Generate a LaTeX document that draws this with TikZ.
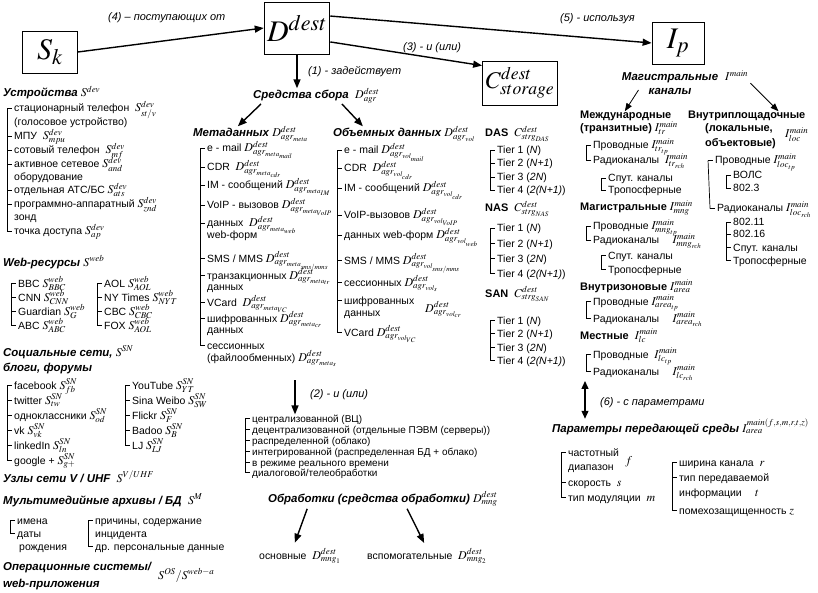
\documentclass[tikz,border=0pt]{standalone}
\usepackage{mathptmx}
\usepackage[no-math]{fontspec}
\setmainfont{Liberation Sans}
\usetikzlibrary{arrows.meta}

\newcommand{\mth}[1]{{\fontsize{12}{12}\selectfont$#1$}}
\newcommand{\Sd}[1]{\mth{S^{dev}_{#1}}}
\newcommand{\Sw}[1]{\mth{S^{web}_{#1}}}
\newcommand{\Ss}[1]{\mth{S^{SN}_{#1}}}
\newcommand{\Dm}[1]{\mth{D^{dest}_{agr_{meta_{#1}}}}}
\newcommand{\Dv}[1]{\mth{D^{dest}_{agr_{vol_{#1}}}}}
\newcommand{\Imn}[1]{\mth{I^{main}_{#1}}}
\newcommand{\Cst}[1]{\mth{C^{dest}_{strg_{#1}}}}
% bracket: ticks for the list, line from first to last
\newcommand{\brk}[3]{%
  \foreach \n in {#1}
    \draw[br] ([xshift=-7pt,yshift=3.5pt]\n.base west) -- ([xshift=-2pt,yshift=3.5pt]\n.base west);
  \draw[br] ([xshift=-7pt,yshift=3.5pt]#2.base west) -- ([xshift=-7pt,yshift=3.5pt]#3.base west);}

\begin{document}
\begin{tikzpicture}[x=1bp, y=-1bp,
    txt/.style={anchor=base west, inner sep=0pt, font=\fontsize{10.5}{12}\selectfont},
    sml/.style={txt, font=\fontsize{10}{12}\selectfont},
    hdr/.style={txt, font=\fontsize{11.5}{12}\selectfont\bfseries\itshape},
    bhdr/.style={txt, font=\fontsize{11}{12}\selectfont\bfseries},
    lbl/.style={anchor=base west, inner sep=0pt, font=\fontsize{11}{12}\selectfont\itshape},
    bx/.style={draw, line width=0.8pt, inner sep=3pt, font=\fontsize{30}{30}\selectfont},
    arr/.style={-{Triangle[length=9pt,width=7pt]}, line width=1.4pt},
    tarr/.style={-{Triangle[length=8pt,width=6pt]}, line width=0.8pt},
    br/.style={line width=0.7pt}]
  \useasboundingbox (0,0) rectangle (818,593);

  % top row
  \node[bx, minimum width=55bp, minimum height=42bp] (S) at (50,52) {$S_k$};
  \node[bx, minimum width=63bp, minimum height=52bp] (D) at (297,28) {$D^{dest}$};
  \node[bx, minimum width=52bp, minimum height=42bp] (Ip) at (678,43) {$I_p$};
  \node[bx, minimum width=75bp, minimum height=44bp, font=\fontsize{24}{24}\selectfont] (C) at (520,83) {$C^{dest}_{storage}$};

  \draw[arr] (S.east) -- (D.west);
  \draw[arr] ([yshift=12pt]D.east) -- (Ip.west);
  \draw[arr] ([yshift=-14pt]D.east) -- ([yshift=-5pt]C.north west);

  \node[lbl] (l4) at (108,21) {(4) – поступающих от};
  \node[lbl] (l5) at (560,22) {(5) - используя};
  \node[lbl] (l3) at (403,51) {(3) - и (или)};
  \node[lbl] (l1) at (308,75) {(1) - задействует};

  % devices
  \node[hdr] (dev) at (3,97) {Устройства \mth{S^{dev}}};
  \node[txt] (d1) at (14,112) {стационарный телефон \ \Sd{st/v}};
  \node[txt] (d1b) at (14,126) {(голосовое устройство)};
  \node[txt] (d2) at (14,140) {МПУ \ \Sd{mpu}};
  \node[txt] (d3) at (14,154) {сотовый телефон \ \Sd{mf}};
  \node[txt] (d4) at (14,168) {активное сетевое \Sd{and}};
  \node[txt] (d4b) at (14,181) {оборудование};
  \node[txt] (d5) at (14,194) {отдельная АТС/БС \Sd{ats}};
  \node[txt] (d6) at (14,208) {программно-аппаратный \Sd{znd}};
  \node[txt] (d6b) at (14,221) {зонд};
  \node[txt] (d7) at (14,235) {точка доступа \Sd{ap}};
  \brk{d1,d2,d3,d4,d5,d6,d7}{d1}{d7}

  % web
  \node[hdr] (web) at (3,266) {Web-ресурсы \mth{S^{web}}};
  \node[txt] (w1) at (18,287) {BBC \Sw{BBC}};
  \node[txt] (w2) at (18,301) {CNN \Sw{CNN}};
  \node[txt] (w3) at (18,315) {Guardian \Sw{G}};
  \node[txt] (w4) at (18,329) {ABC \Sw{ABC}};
  \brk{w1,w2,w3,w4}{w1}{w4}
  \node[txt] (w5) at (104,287) {AOL \Sw{AOL}};
  \node[txt] (w6) at (104,301) {NY Times \Sw{NYT}};
  \node[txt] (w7) at (104,315) {CBC \Sw{CBC}};
  \node[txt] (w8) at (104,329) {FOX \Sw{AOL}};
  \brk{w5,w6,w7,w8}{w5}{w8}

  % social
  \node[hdr] (sn) at (3,356) {Социальные сети, \mth{S^{SN}}};
  \node[hdr] (sn2) at (3,371) {блоги, форумы};
  \node[txt] (s1) at (14,389) {facebook \Ss{fb}};
  \node[txt] (s2) at (14,404) {twitter \Ss{tw}};
  \node[txt] (s3) at (14,419) {одноклассники \Ss{od}};
  \node[txt] (s4) at (14,434) {vk \Ss{vk}};
  \node[txt] (s5) at (14,449) {linkedIn \Ss{ln}};
  \node[txt] (s6) at (14,464) {google + \Ss{g+}};
  \brk{s1,s2,s3,s4,s5,s6}{s1}{s6}
  \node[txt] (s7) at (132,389) {YouTube \Ss{YT}};
  \node[txt] (s8) at (132,404) {Sina Weibo \Ss{SW}};
  \node[txt] (s9) at (132,419) {Flickr \Ss{F}};
  \node[txt] (s10) at (132,434) {Badoo \Ss{B}};
  \node[txt] (s11) at (132,449) {LJ \Ss{LJ}};
  \brk{s7,s8,s9,s10,s11}{s7}{s11}

  \node[hdr] (vu) at (3,482) {Узлы сети V / UHF \ \mth{S^{V/UHF}}};
  \node[hdr] (mm) at (3,504) {Мультимедийные архивы / БД \ \mth{S^{M}}};
  \node[txt] (m1) at (17,524) {имена};
  \node[txt] (m2) at (17,537) {даты};
  \node[txt] (m2b) at (19,550) {рождения};
  \brk{m1,m2}{m1}{m2}
  \node[txt] (m3) at (95,524) {причины, содержание};
  \node[txt] (m3b) at (95,537) {инцидента};
  \node[txt] (m4) at (95,550) {др. персональные данные};
  \brk{m3,m4}{m3}{m4}
  \node[hdr] (os) at (3,570) {Операционные системы/};
  \node[hdr] (os2) at (3,587) {web-приложения};
  \node[txt] (osm) at (158,579) {\mth{S^{OS} / S^{web-a}}};

  % collection means
  \node[hdr] (agr) at (253,99) {Средства сбора \ \mth{D^{dest}_{agr}}};
  \draw[arr] (D.south) -- (D.south |- agr.north);
  \node[hdr] (meta) at (193,137) {Метаданных \mth{D^{dest}_{agr_{meta}}}};
  \node[hdr] (vol) at (333,137) {Объемных данных \mth{D^{dest}_{agr_{vol}}}};
  \draw[arr] ([xshift=8pt]agr.south west) -- ([xshift=45pt]meta.north west);
  \draw[arr] ([xshift=-38pt]agr.south east) -- ([xshift=30pt]vol.north west);

  \node[txt] (a1) at (207,152) {e - mail \Dm{mail}};
  \node[txt] (a2) at (207,171) {CDR \ \Dm{cdr}};
  \node[txt] (a3) at (207,189) {IM - сообщений \Dm{IM}};
  \node[txt] (a4) at (207,209) {VoIP - вызовов \Dm{VoIP}};
  \node[txt] (a5) at (207,227) {данных \ \Dm{web}};
  \node[txt] (a5b) at (207,239) {web-форм};
  \node[txt] (a6) at (207,262) {SMS / MMS \Dm{sms/mms}};
  \node[txt] (a7) at (207,279) {транзакционных \Dm{tr}};
  \node[txt] (a7b) at (207,290) {данных};
  \node[txt] (a8) at (207,306) {VCard \ \Dm{VC}};
  \node[txt] (a9) at (207,322) {шифрованных \Dm{cr}};
  \node[txt] (a9b) at (207,333) {данных};
  \node[txt] (a10) at (207,349) {сессионных};
  \node[txt] (a10b) at (207,361) {(файлообменных) \Dm{s}};
  \brk{a1,a2,a3,a4,a5,a6,a7,a8,a9,a10}{a1}{a10}

  \node[txt] (b1) at (344,154) {e - mail \Dv{mail}};
  \node[txt] (b2) at (344,172) {CDR \ \Dv{cdr}};
  \node[txt] (b3) at (344,192) {IM - сообщений \Dv{cdr}};
  \node[txt] (b4) at (344,219) {VoIP-вызовов \Dv{VoIP}};
  \node[txt] (b5) at (344,239) {данных web-форм \Dv{web}};
  \node[txt] (b6) at (344,264) {SMS / MMS \Dv{sms/mms}};
  \node[txt] (b7) at (344,286) {сессионных \Dv{s}};
  \node[txt] (b8) at (344,304) {шифрованных};
  \node[txt] (b8b) at (344,316) {данных};
  \node[txt] (b8m) at (425,312) {\Dv{cr}};
  \node[txt] (b9) at (344,336) {VCard \Dv{VC}};
  \brk{b1,b2,b3,b4,b5,b6,b7,b8,b9}{b1}{b9}

  % storage
  \node[bhdr] (das) at (485,137) {DAS \ \Cst{DAS}};
  \node[txt] (t1) at (497,154) {Tier 1 (\textit{N})};
  \node[txt] (t2) at (497,167) {Tier 2 (\textit{N+1})};
  \node[txt] (t3) at (497,181) {Tier 3 (\textit{2N})};
  \node[txt] (t4) at (497,194) {Tier 4 (\textit{2(N+1)})};
  \brk{t1,t2,t3,t4}{t1}{t4}
  \node[bhdr] (nas) at (485,212) {NAS \ \Cst{NAS}};
  \node[txt] (t5) at (497,232) {Tier 1 (\textit{N})};
  \node[txt] (t6) at (497,247) {Tier 2 (\textit{N+1})};
  \node[txt] (t7) at (497,262) {Tier 3 (\textit{2N})};
  \node[txt] (t8) at (497,277) {Tier 4 (\textit{2(N+1)})};
  \brk{t5,t6,t7,t8}{t5}{t8}
  \node[bhdr] (san) at (485,297) {SAN \ \Cst{SAN}};
  \node[txt] (t9) at (497,324) {Tier 1 (\textit{N})};
  \node[txt] (t10) at (497,337) {Tier 2 (\textit{N+1})};
  \node[txt] (t11) at (497,351) {Tier 3 (\textit{2N})};
  \node[txt] (t12) at (497,364) {Tier 4 (\textit{2(N+1)})};
  \brk{t9,t10,t11,t12}{t9}{t12}

  % processing
  \node[sml] (p1) at (252,422) {централизованной (ВЦ)};
  \node[sml] (p2) at (252,433) {децентрализованной (отдельные ПЭВМ (серверы))};
  \node[sml] (p3) at (252,444) {распределенной (облако)};
  \node[sml] (p4) at (252,455) {интегрированной (распределенная БД + облако)};
  \node[sml] (p5) at (252,466) {в режиме реального времени};
  \node[sml] (p6) at (252,476) {диалоговой/телеобработки};
  \brk{p1,p2,p3,p4,p5,p6}{p1}{p6}
  \coordinate (c2) at (295,380);
  \draw[arr] (c2) -- (c2 |- p1.north);
  \node[lbl] (l2) at (310,397) {(2) - и (или)};

  \node[hdr] (proc) at (268,502) {Обработки (средства обработки) \mth{D^{dest}_{mng}}};
  \node[txt] (mn1) at (259,559) {основные \ \mth{D^{dest}_{mng_1}}};
  \node[txt] (mn2) at (367,559) {вспомогательные \ \mth{D^{dest}_{mng_2}}};
  \draw[arr, shorten <=2pt, shorten >=6pt] ([xshift=40pt]proc.south west) -- ([xshift=34pt]mn1.north west);
  \draw[arr, shorten <=2pt, shorten >=6pt] ([xshift=-92pt]proc.south east) -- ([xshift=60pt]mn2.north west);

  % channels
  \node[hdr, anchor=base] (mh) at (670,81) {Магистральные};
  \node[hdr, anchor=base] (mh2) at (670,95) {каналы};
  \node[txt] (mhm) at (725,81) {\mth{I^{main}}};

  \node[bhdr] (intl) at (580,119) {Международные};
  \node[bhdr] (intl2) at (580,132) {(транзитные) \Imn{tr}};
  \node[txt] (i1) at (593,149) {Проводные \Imn{tr_{tp}}};
  \node[txt] (i2) at (593,164) {Радиоканалы \ \Imn{tr_{rch}}};
  \brk{i1,i2}{i1}{i2}
  \node[txt] (i3) at (608,182) {Спут. каналы};
  \node[txt] (i4) at (608,194) {Тропосферные};
  \brk{i3,i4}{i3}{i4}
  \node[bhdr] (mng) at (580,211) {Магистральные \Imn{mng}};
  \node[txt] (i5) at (593,230) {Проводные \Imn{mng_{tp}}};
  \node[txt] (i6) at (593,244) {Радиоканалы \quad \Imn{mng_{rch}}};
  \brk{i5,i6}{i5}{i6}
  \node[txt] (i7) at (608,259) {Спут. каналы};
  \node[txt] (i8) at (608,273) {Тропосферные};
  \brk{i7,i8}{i7}{i8}
  \node[bhdr] (area) at (580,290) {Внутризоновые \Imn{area}};
  \node[txt] (i9) at (593,305) {Проводные \Imn{area_{tp}}};
  \node[txt] (i10) at (593,322) {Радиоканалы \quad \Imn{area_{rch}}};
  \brk{i9,i10}{i9}{i10}
  \node[bhdr] (lc) at (580,339) {Местные \ \Imn{lc}};
  \node[txt] (i11) at (593,358) {Проводные \ \Imn{lc_{tp}}};
  \node[txt] (i12) at (593,375) {Радиоканалы \quad \Imn{lc_{rch}}};
  \brk{i11,i12}{i11}{i12}

  \node[bhdr] (loc) at (688,119) {Внутриплощадочные};
  \node[bhdr] (loc2) at (705,132) {(локальные,};
  \node[txt] (locm) at (785,138) {\Imn{loc}};
  \node[bhdr] (loc3) at (705,147) {объектовые)};
  \node[txt] (j1) at (715,164) {Проводные \Imn{loc_{tp}}};
  \node[txt] (j2) at (733,179) {ВОЛС};
  \node[txt] (j3) at (733,192) {802.3};
  \brk{j2,j3}{j2}{j3}
  \node[txt] (j4) at (717,212) {Радиоканалы \Imn{loc_{rch}}};
  \brk{j1,j4}{j1}{j4}
  \node[txt] (j5) at (733,226) {802.11};
  \node[txt] (j6) at (733,238) {802.16};
  \node[txt] (j7) at (733,251) {Спут. каналы};
  \node[txt] (j8) at (733,264) {Тропосферные};
  \brk{j5,j6,j7,j8}{j5}{j8}

  \draw[tarr] ([xshift=-10pt,yshift=2pt]mh2.west) -- ([xshift=45pt]intl.north west);
  \draw[tarr] ([xshift=2pt,yshift=-2pt]mhm.south east) -- ([xshift=-27pt]loc.north east);

  % parameters
  \node[hdr] (par) at (552,432) {Параметры передающей среды \mth{I^{main(f,s,m,r,t,z)}_{area}}};
  \coordinate (c6) at (585,381);
  \draw[{Triangle[length=8pt,width=7pt]}-{Triangle[length=8pt,width=7pt]}, line width=1.4pt] (c6) -- (c6 |- par.north);
  \node[lbl] (l6) at (600,405) {(6) - с параметрами};
  \node[txt] (q1) at (568,456) {частотный};
  \node[txt] (q1b) at (568,470) {диапазон};
  \node[txt] (q1m) at (625,464) {\mth{f}};
  \node[txt] (q2) at (568,486) {скорость \ \mth{s}};
  \node[txt] (q3) at (568,501) {тип модуляции \ \mth{m}};
  \brk{q1,q2,q3}{q1}{q3}
  \node[txt] (r1) at (679,466) {ширина канала \ \mth{r}};
  \node[txt] (r2) at (679,481) {тип передаваемой};
  \node[txt] (r2b) at (679,496) {информации \quad \mth{t}};
  \node[txt] (r3) at (679,514) {помехозащищенность \mth{z}};
  \brk{r1,r2,r3}{r1}{r3}
\end{tikzpicture}
\end{document}
